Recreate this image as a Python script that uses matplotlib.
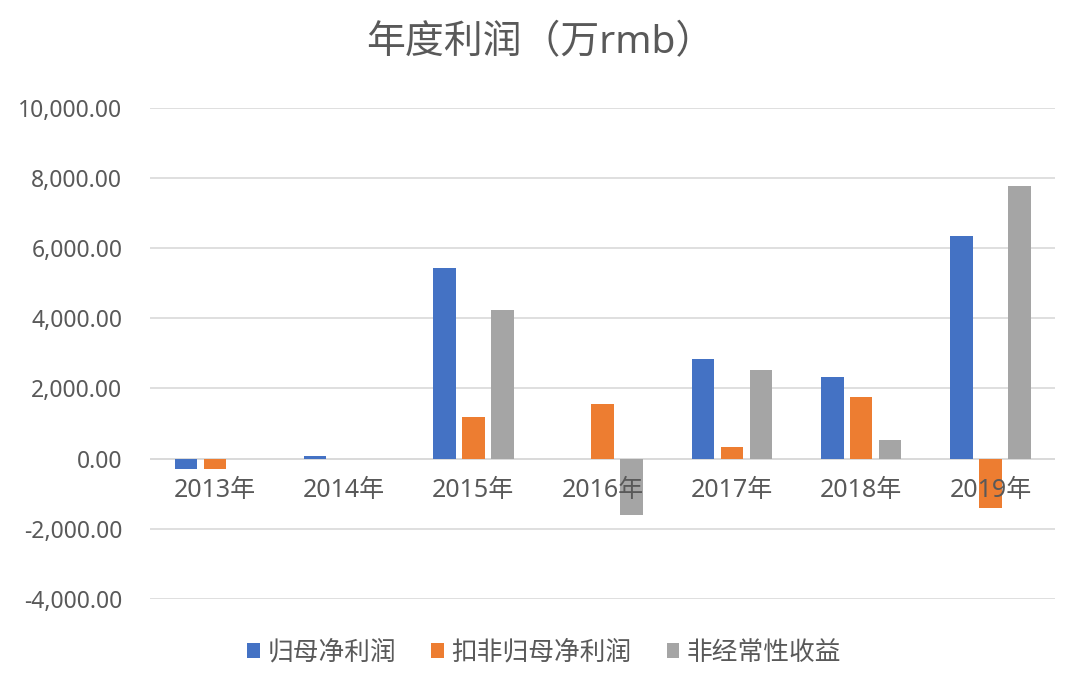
import matplotlib
matplotlib.use("Agg")
import matplotlib.pyplot as plt
import numpy as np
from matplotlib.ticker import FuncFormatter

FAM = ['Noto Sans', 'Noto Sans CJK SC', 'DejaVu Sans']
plt.rcParams['font.family'] = FAM

categories = ["2013年", "2014年", "2015年", "2016年", "2017年", "2018年", "2019年"]
series_names = ["归母净利润", "扣非归母净利润", "非经常性收益"]
guimu = [-290, 80, 5430, 0, 2840, 2315, 6360]
koufei = [-290, 0, 1180, 1570, 330, 1765, -1405]
feijing = [0, 0, 4245, -1600, 2530, 540, 7780]
colors = ["#4472C4", "#ED7D31", "#A5A5A5"]

fig = plt.figure(figsize=(10.8, 6.79), dpi=100)
ax = fig.add_axes([0.139, 0.118, 0.838, 0.723])

x = np.arange(len(categories))
w = 0.174
step = 0.224
for i, (vals, name, c) in enumerate(zip([guimu, koufei, feijing], series_names, colors)):
    ax.bar(x + (i - 1) * step, vals, width=w, color=c, label=name, zorder=3)

ax.set_xlim(-0.5, len(categories) - 0.5)
ax.set_ylim(-4000, 10000)
ax.set_yticks(np.arange(-4000, 10001, 2000))
ax.yaxis.set_major_formatter(FuncFormatter(lambda v, p: f"{v:,.2f}"))
ax.grid(axis='y', color='#d9d9d9', linewidth=1.2, zorder=0)
ax.axhline(0, color='#d9d9d9', linewidth=1.2, zorder=2)
for s in ax.spines.values():
    s.set_visible(False)
ax.tick_params(axis='y', length=0, labelsize=16.5, labelcolor='#595959', pad=20)
ax.set_xticks([])

for xi, lab in zip(x, categories):
    ax.annotate(lab, (xi, 0), xytext=(0, -14), textcoords='offset points',
                ha='center', va='top', fontsize=18, color='#595959', zorder=5)

fig.text(0.5, 0.937, "年度利润（万rmb）", ha='center', va='center', fontsize=28, color='#595959')

leg = fig.legend(loc='center', bbox_to_anchor=(0.504, 0.038), ncol=3, frameon=False,
                 fontsize=18.5, handlelength=0.5, handleheight=0.5, handletextpad=0.3,
                 columnspacing=1.35, labelcolor='#595959')

fig.savefig("out.png", dpi=100)
